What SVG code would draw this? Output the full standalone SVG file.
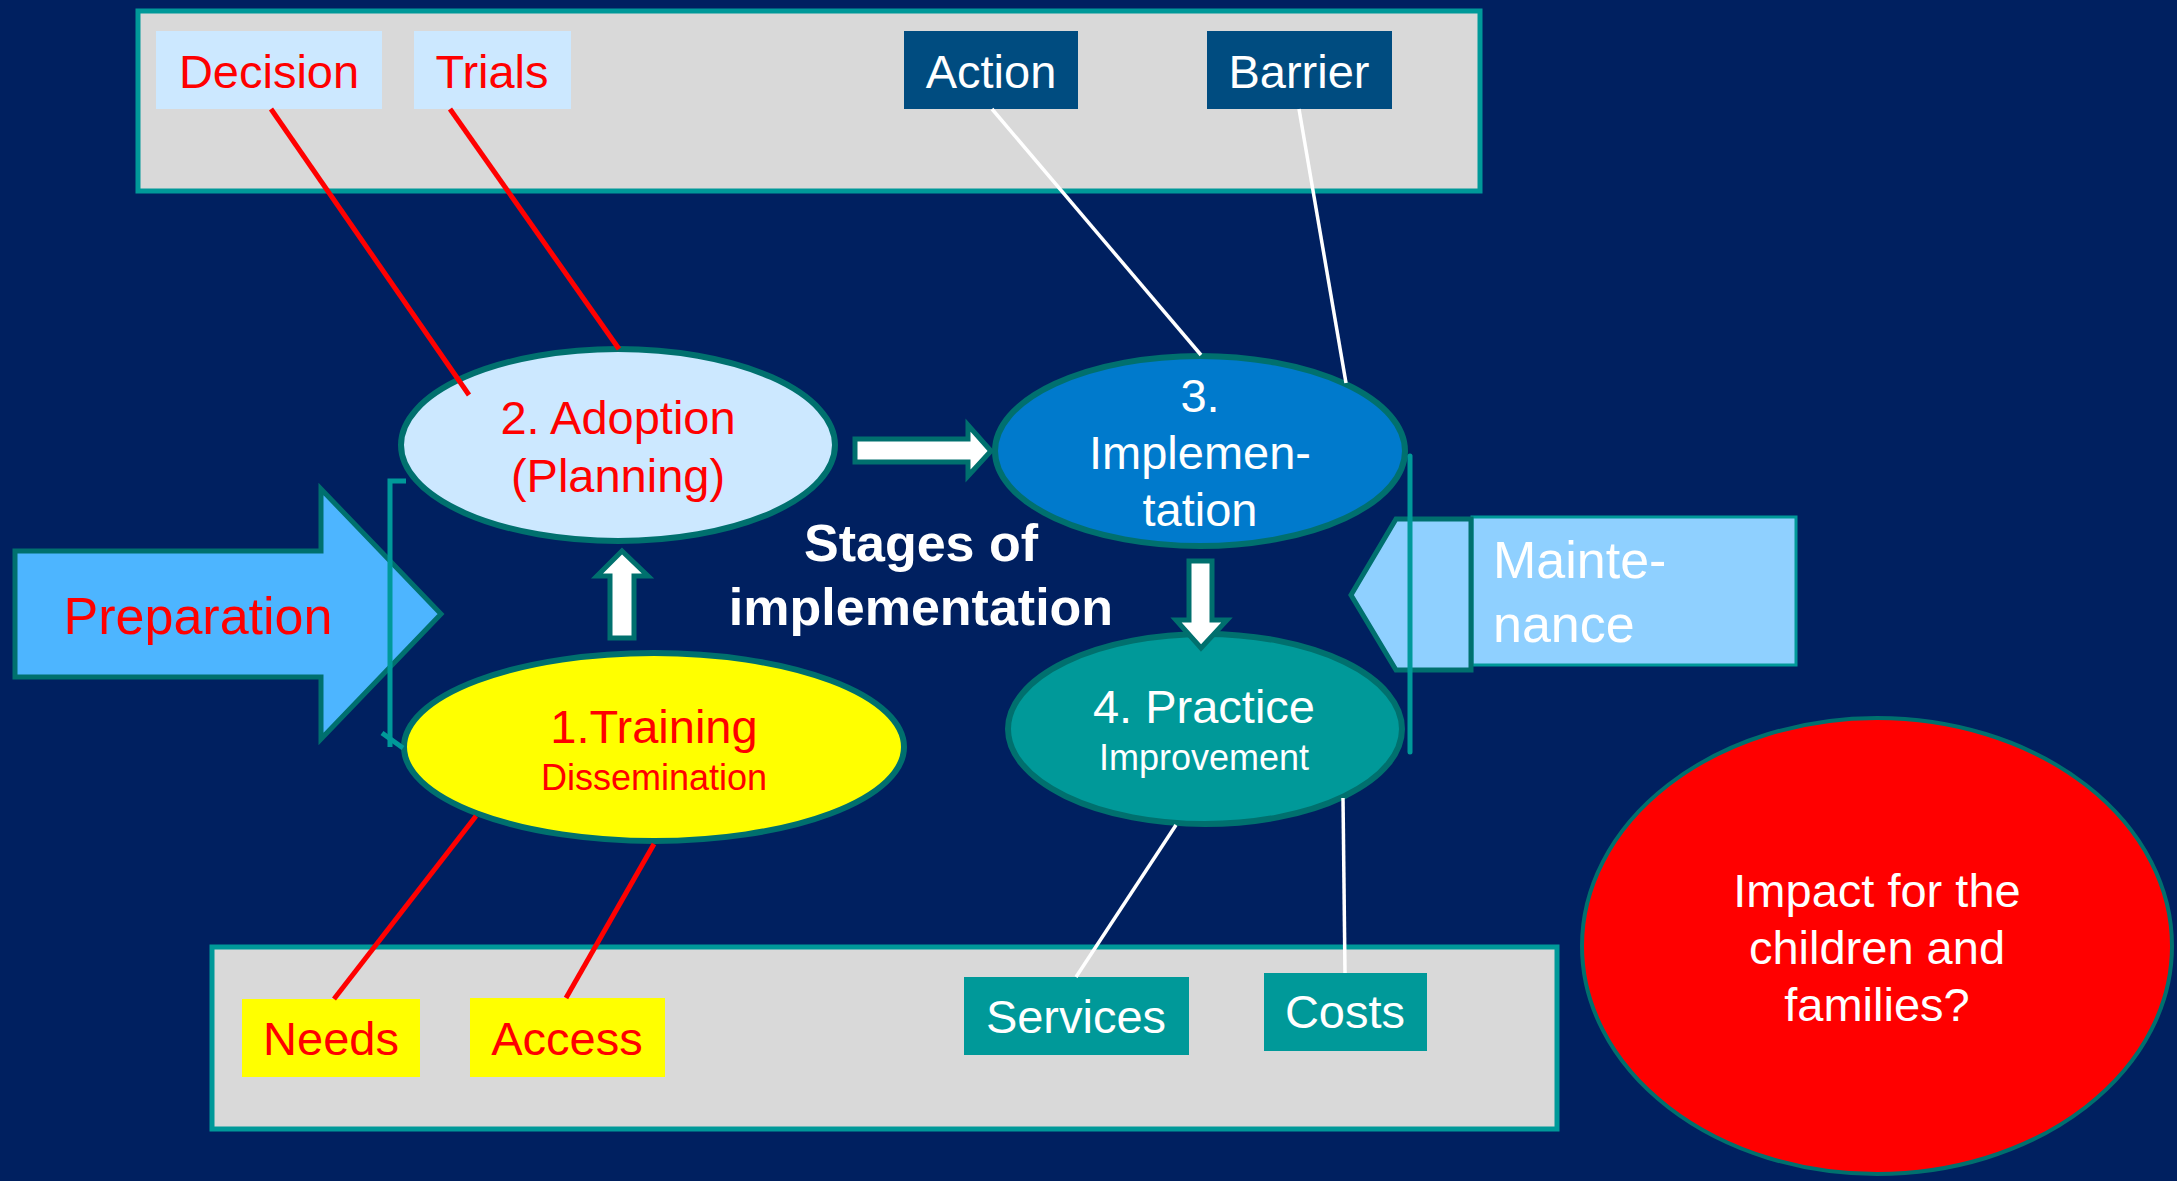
<svg xmlns="http://www.w3.org/2000/svg" width="2177" height="1181" viewBox="0 0 2177 1181">
  <style>
    text { font-family: "Liberation Sans", Arial, sans-serif; }
    .panel { fill: #D9D9D9; stroke: #009999; stroke-width: 5; }
    .stage { stroke: #00706E; stroke-width: 6; }
    .lbl { font-size: 47px; text-anchor: middle; }
    .red { fill: #FF0000; }
    .wht { fill: #FFFFFF; }
    .sub { font-size: 36px; text-anchor: middle; }
    .redline { stroke: #FF0000; stroke-width: 5; fill: none; }
    .whiteline { stroke: #FFFFFF; stroke-width: 3.5; fill: none; }
    .bracket { stroke: #009999; stroke-width: 5; fill: none; }
    .flow { fill: #FFFFFF; stroke: #00706E; stroke-width: 5; stroke-linejoin: miter; }
  </style>

  <!-- background -->
  <rect x="0" y="0" width="2177" height="1181" fill="#002060"/>

  <!-- top and bottom panels -->
  <g id="top-panel"><rect class="panel" x="138" y="11" width="1342" height="180"/></g>
  <g id="bottom-panel"><rect class="panel" x="212" y="947" width="1345" height="182"/></g>

  <!-- Preparation arrow -->
  <g id="preparation">
    <polygon points="15,551 321,551 321,489 441,614 321,739 321,677 15,677" fill="#4DB5FF" stroke="#00706E" stroke-width="5"/>
    <text class="red" x="198" y="634" font-size="52" text-anchor="middle">Preparation</text>
  </g>

  <!-- Maintenance arrow -->
  <g id="maintenance">
    <rect x="1472" y="517" width="324" height="148" fill="#8FD0FF" stroke="#009999" stroke-width="3"/>
    <polygon points="1351,595 1396,519 1471,519 1471,670 1396,670" fill="#8FD0FF" stroke="#00706E" stroke-width="5"/>
    <text class="wht" font-size="52"><tspan x="1493" y="578">Mainte-</tspan><tspan x="1493" y="642">nance</tspan></text>
  </g>

  <!-- stage ellipses -->
  <g id="adoption">
    <ellipse class="stage" cx="618" cy="445" rx="217" ry="96" fill="#CCE8FF"/>
    <text class="lbl red"><tspan x="618" y="434">2. Adoption</tspan><tspan x="618" y="492">(Planning)</tspan></text>
  </g>
  <g id="implementation">
    <ellipse class="stage" cx="1200" cy="451" rx="205" ry="95" fill="#007ACC"/>
    <text class="lbl wht"><tspan x="1200" y="412">3.</tspan><tspan x="1200" y="469">Implemen-</tspan><tspan x="1200" y="526">tation</tspan></text>
  </g>
  <g id="training">
    <ellipse class="stage" cx="654" cy="747" rx="250" ry="94" fill="#FFFF00"/>
    <text class="lbl red" x="654" y="743">1.Training</text>
    <text class="sub red" x="654" y="790">Dissemination</text>
  </g>
  <g id="practice">
    <ellipse class="stage" cx="1205" cy="729" rx="197" ry="95" fill="#009999"/>
    <text class="lbl wht" x="1204" y="723">4. Practice</text>
    <text class="sub wht" x="1204" y="770">Improvement</text>
  </g>
  <g id="impact">
    <ellipse cx="1877" cy="946" rx="295" ry="228" fill="#FF0000" stroke="#00706E" stroke-width="4"/>
    <text class="lbl wht"><tspan x="1877" y="907">Impact for the</tspan><tspan x="1877" y="964">children and</tspan><tspan x="1877" y="1021">families?</tspan></text>
  </g>

  <!-- title -->
  <g id="title">
    <text class="wht" font-size="52" font-weight="bold" text-anchor="middle"><tspan x="921" y="561">Stages of</tspan><tspan x="921" y="625">implementation</tspan></text>
  </g>

  <!-- label boxes -->
  <g id="decision"><rect x="156" y="31" width="226" height="78" fill="#CCE8FF"/><text class="lbl red" x="269" y="88">Decision</text></g>
  <g id="trials"><rect x="414" y="31" width="157" height="78" fill="#CCE8FF"/><text class="lbl red" x="492" y="88">Trials</text></g>
  <g id="action"><rect x="904" y="31" width="174" height="78" fill="#004C80"/><text class="lbl wht" x="991" y="88">Action</text></g>
  <g id="barrier"><rect x="1207" y="31" width="185" height="78" fill="#004C80"/><text class="lbl wht" x="1299" y="88">Barrier</text></g>
  <g id="needs"><rect x="242" y="999" width="178" height="78" fill="#FFFF00"/><text class="lbl red" x="331" y="1055">Needs</text></g>
  <g id="access"><rect x="470" y="998" width="195" height="79" fill="#FFFF00"/><text class="lbl red" x="567" y="1055">Access</text></g>
  <g id="services"><rect x="964" y="977" width="225" height="78" fill="#009999"/><text class="lbl wht" x="1076" y="1033">Services</text></g>
  <g id="costs"><rect x="1264" y="973" width="163" height="78" fill="#009999"/><text class="lbl wht" x="1345" y="1028">Costs</text></g>

  <!-- connectors -->
  <g id="connectors">
    <line class="redline" x1="271" y1="109" x2="469" y2="395"/>
    <line class="redline" x1="450" y1="109" x2="619" y2="349"/>
    <line class="whiteline" x1="992" y1="109" x2="1201" y2="355"/>
    <line class="whiteline" x1="1299" y1="109" x2="1346" y2="383"/>
    <line class="redline" x1="334" y1="999" x2="476" y2="816"/>
    <line class="redline" x1="566" y1="998" x2="654" y2="844"/>
    <line class="whiteline" x1="1076" y1="977" x2="1176" y2="825"/>
    <line class="whiteline" x1="1345" y1="973" x2="1343" y2="798"/>

    <!-- elbow brackets -->
    <polyline class="bracket" points="406,481 390,481 390,747"/>
    <line class="bracket" x1="382" y1="733" x2="403" y2="748"/>
    <line class="bracket" x1="1410" y1="456" x2="1410" y2="752" stroke-linecap="round"/>

    <!-- stage flow arrows -->
    <polygon class="flow" points="855,439 968,439 968,425 991,451 968,476 968,462 855,462"/>
    <polygon class="flow" points="622,551 648,576 634,576 634,638 610,638 610,576 597,576"/>
    <polygon class="flow" points="1189,561 1212,561 1212,620 1227,620 1201,648 1176,620 1189,620"/>
  </g>
</svg>
